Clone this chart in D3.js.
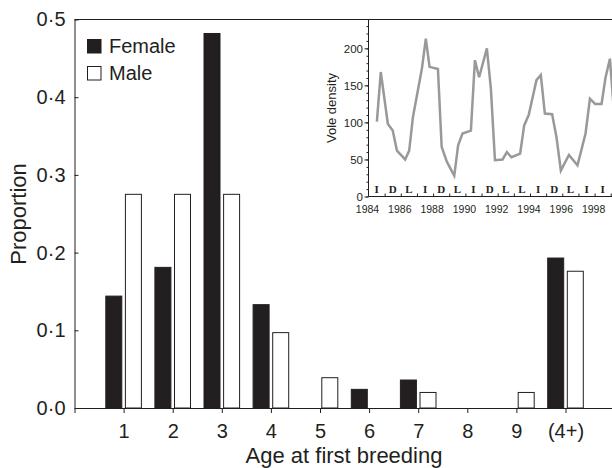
<!DOCTYPE html>
<html>
<head>
<meta charset="utf-8">
<script src="https://cdn.jsdelivr.net/npm/d3@7/dist/d3.min.js"></script>
<style>
	body { margin: 0; background: #fff; }
	svg { display: block; font-family: 'Liberation Sans', Arial, sans-serif; }
	.domain { stroke: #231f20; }
</style>
</head>
<body>
<div class="graphic"></div>
<script>

// age at first breeding
var categories = ['1', '2', '3', '4', '5', '6', '7', '8', '9', '(4+)'];
var female = [0.144, 0.181, 0.482, 0.133, 0, 0.024, 0.036, 0, 0, 0.193];
var male = [0.275, 0.275, 0.275, 0.097, 0.039, 0, 0.020, 0, 0.020, 0.176];
var yTicks = [0, 0.1, 0.2, 0.3, 0.4, 0.5];

// inset: vole densities
var voleYears = [1984.52, 1984.76, 1985.20, 1985.50, 1985.76, 1986.27, 1986.52, 1986.75, 1987.31, 1987.55,
	1987.78, 1988.30, 1988.53, 1988.85, 1989.31, 1989.55, 1989.82, 1990.34, 1990.59, 1990.85,
	1991.33, 1991.58, 1991.83, 1992.30, 1992.57, 1992.85, 1993.39, 1993.64, 1993.92, 1994.40,
	1994.67, 1994.92, 1995.37, 1995.64, 1995.91, 1996.41, 1996.94, 1997.44, 1997.71, 1998.03,
	1998.43, 1998.68, 1998.95, 1999.15];
var voleDensity = [101, 168, 98, 89, 62, 50, 62, 107, 173, 213,
	175, 172, 67, 47, 28, 69, 85, 89, 184, 161,
	200, 145, 49, 50, 60, 53, 58, 96, 110, 157,
	164, 112, 111, 80, 35, 56, 42, 85, 132, 125,
	125, 161, 186, 128];
var phaseYears = [1984, 1985, 1986, 1987, 1988, 1989, 1990, 1991, 1992, 1993, 1994, 1995, 1996, 1997, 1998];
var phases = ['I', 'D', 'L', 'I', 'D', 'L', 'I', 'D', 'L', 'L', 'I', 'D', 'L', 'I', 'I'];
var insetYTicks = [0, 50, 100, 150, 200];
var insetYearLabels = [1984, 1986, 1988, 1990, 1992, 1994, 1996, 1998];

var width = 612, height = 468;
var ink = '#231f20';
var dot = function (v) { return d3.format('.1f')(v).replace('.', '\u00b7'); };

var svg = d3.select('.graphic').append('svg').attr('width', width).attr('height', height);

// main plot (plotTop, not "top": window.top can't be overwritten)
var plotLeft = 74.5, plotTop = 19.5, plotBottom = 408;
var x = d3.scaleLinear().domain([0, 11]).range([plotLeft, plotLeft + 11 * 49.1]);
var y = d3.scaleLinear().domain([0, 0.5]).range([plotBottom, plotTop]);
var barW = 16, gap = 3.6;

var bars = svg.append('g');
bars.selectAll('.f').data(female.map(function (v, i) { return { v: v, i: i }; }).filter(function (d) { return d.v > 0; }))
	.enter().append('rect')
	.attr('x', function (d) { return x(d.i + 1) - gap / 2 - barW; })
	.attr('y', function (d) { return y(d.v); })
	.attr('width', barW)
	.attr('height', function (d) { return plotBottom - y(d.v); })
	.attr('fill', ink).attr('stroke', ink).attr('stroke-width', 1);
bars.selectAll('.m').data(male.map(function (v, i) { return { v: v, i: i }; }).filter(function (d) { return d.v > 0; }))
	.enter().append('rect')
	.attr('x', function (d) { return x(d.i + 1) + gap / 2; })
	.attr('y', function (d) { return y(d.v); })
	.attr('width', barW)
	.attr('height', function (d) { return plotBottom - y(d.v); })
	.attr('fill', '#fff').attr('stroke', ink).attr('stroke-width', 1);

// top border
svg.append('line').attr('x1', plotLeft).attr('x2', width).attr('y1', plotTop).attr('y2', plotTop)
	.attr('stroke', ink).attr('stroke-width', 1);

var xAxis = svg.append('g').attr('transform', 'translate(0,' + plotBottom + ')')
	.call(d3.axisBottom(x).tickValues(d3.range(1, categories.length + 1))
		.tickFormat(function (d) { return categories[d - 1]; }).tickSize(5).tickPadding(11));
xAxis.selectAll('text').attr('font-size', 20).attr('fill', ink).attr('font-family', null);
xAxis.selectAll('line').attr('stroke', ink);

var yAxis = svg.append('g').attr('transform', 'translate(' + plotLeft + ',0)')
	.call(d3.axisLeft(y).tickValues(yTicks).tickFormat(dot).tickSizeInner(-4).tickSizeOuter(0).tickPadding(9));
yAxis.selectAll('text').attr('font-size', 20).attr('fill', ink).attr('font-family', null);
yAxis.selectAll('line').attr('stroke', ink);

svg.append('text').attr('x', 344).attr('y', 463).attr('text-anchor', 'middle')
	.attr('font-size', 22).attr('fill', ink).text('Age at first breeding');
svg.append('text').attr('transform', 'translate(25.5,214) rotate(-90)').attr('text-anchor', 'middle')
	.attr('font-size', 22).attr('fill', ink).text('Proportion');

// legend
var legend = svg.append('g');
[['Female', ink], ['Male', '#fff']].forEach(function (d, i) {
	legend.append('rect').attr('x', 87.5).attr('y', 39.5 + i * 27).attr('width', 13.5).attr('height', 13.5)
		.attr('fill', d[1]).attr('stroke', ink).attr('stroke-width', 1);
	legend.append('text').attr('x', 109).attr('y', 52.5 + i * 27).attr('font-size', 20)
		.attr('fill', ink).text(d[0]);
});

// inset
var ix = d3.scaleLinear().domain([1984, 2000]).range([368.5, 368.5 + 16 * 16.15]);
var iy = d3.scaleLinear().domain([0, 240]).range([196.5, 18.7]);
var inset = svg.append('g');

inset.append('path')
	.datum(voleYears.map(function (t, i) { return [t, voleDensity[i]]; }))
	.attr('fill', 'none').attr('stroke', '#999').attr('stroke-width', 2.5).attr('stroke-linejoin', 'miter')
	.attr('d', d3.line().x(function (d) { return ix(d[0]); }).y(function (d) { return iy(d[1]); }));

var iyAxis = inset.append('g').attr('transform', 'translate(368.5,0)')
	.call(d3.axisLeft(iy).tickValues(insetYTicks).tickSizeInner(4).tickSizeOuter(0).tickPadding(1.5));
iyAxis.select('.domain').attr('d', 'M0,' + iy(0) + 'V' + plotTop);
iyAxis.selectAll('text').attr('font-size', 11.5).attr('fill', ink).attr('font-family', null);
iyAxis.selectAll('line').attr('stroke', ink);
inset.append('g').attr('transform', 'translate(368.5,0)')
	.call(d3.axisLeft(iy).tickValues(d3.range(0, 240, 10)).tickSize(2).tickFormat(''))
	.call(function (g) { g.select('.domain').remove(); })
	.selectAll('line').attr('stroke', ink);

var ixAxis = inset.append('g').attr('transform', 'translate(0,' + iy(0) + ')')
	.call(d3.axisBottom(ix).tickValues(d3.range(1985, 2000)).tickSizeInner(-3).tickSizeOuter(0).tickFormat(''));
ixAxis.selectAll('line').attr('stroke', ink);
ixAxis.select('.domain').attr('d', 'M' + ix(1984) + ',0H' + width);

inset.selectAll('.yr').data(insetYearLabels).enter().append('text')
	.attr('x', function (d) { return ix(d) - 1; })
	.attr('y', 213).attr('text-anchor', 'middle').attr('font-size', 10.5).attr('fill', ink)
	.text(function (d) { return d; });

inset.selectAll('.ph').data(phases).enter().append('text')
	.attr('x', function (d, i) { return ix(phaseYears[i] + 0.5); })
	.attr('y', 192.5).attr('text-anchor', 'middle')
	.attr('font-family', "'Liberation Serif', serif").attr('font-weight', 'bold').attr('font-size', 11)
	.attr('fill', ink).text(function (d) { return d; });

inset.append('text').attr('transform', 'translate(336,108) rotate(-90)').attr('text-anchor', 'middle')
	.attr('font-size', 13).attr('fill', ink).text('Vole density');

</script>
</body>
</html>
